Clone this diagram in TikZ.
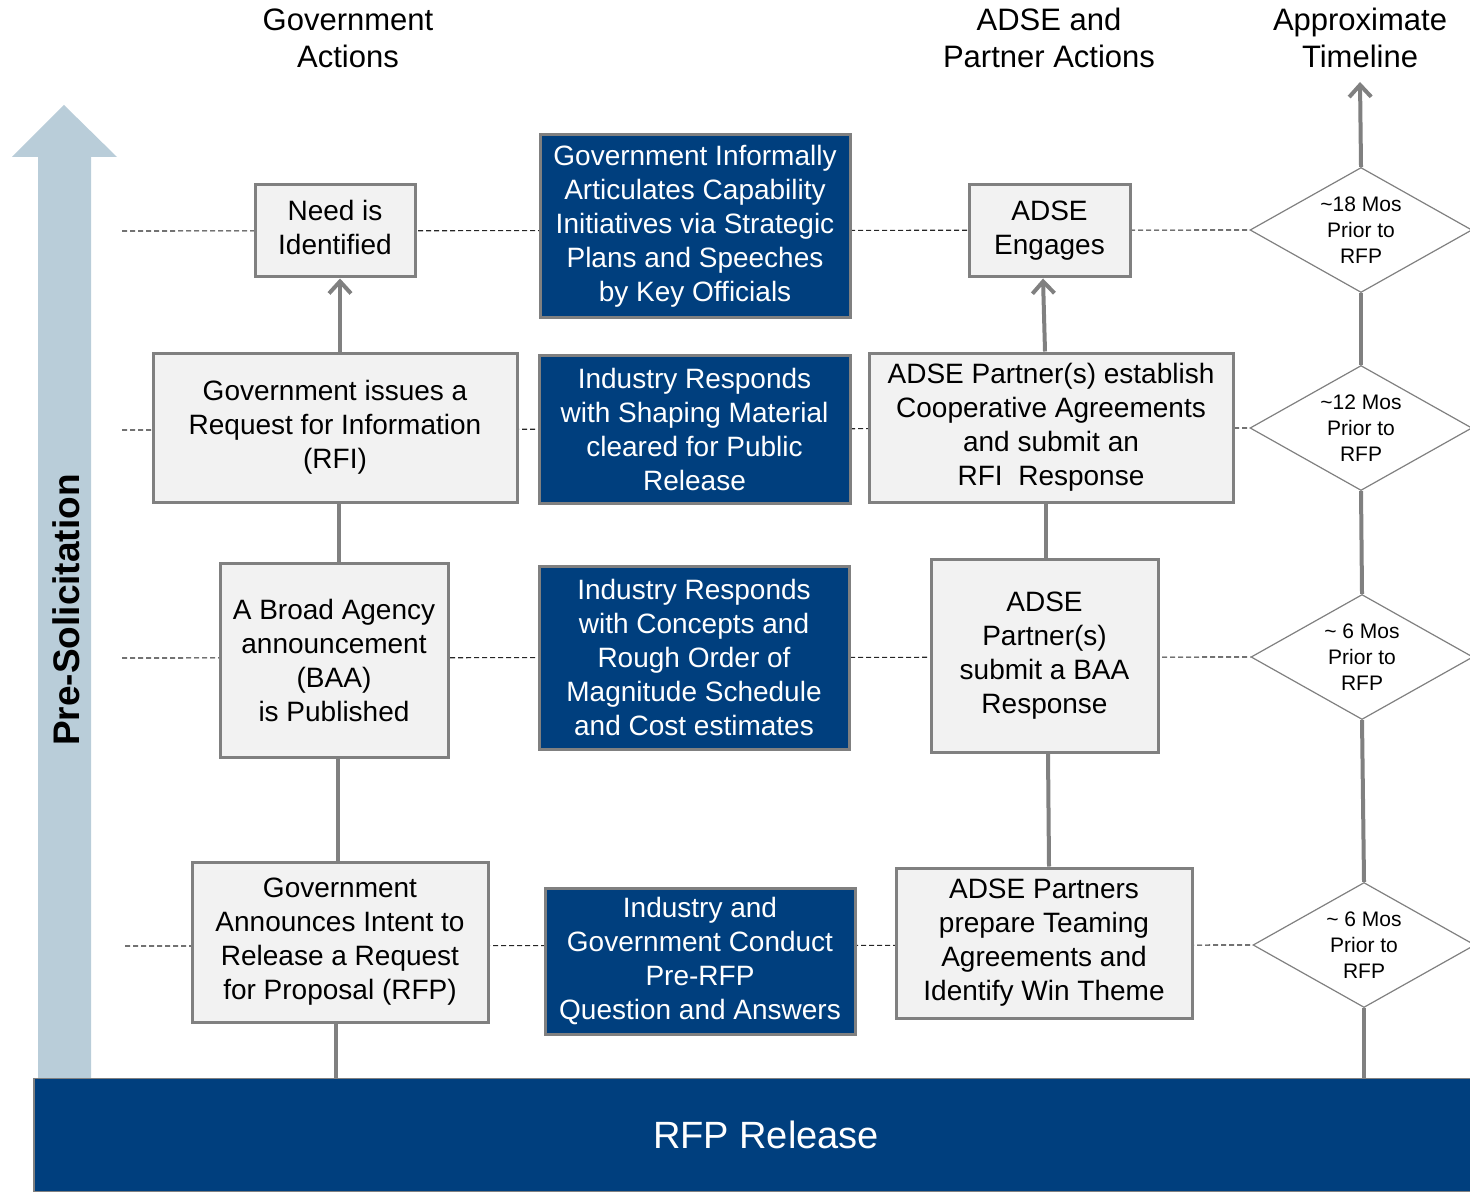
\documentclass[tikz,border=0pt]{standalone}
\usepackage{fontspec}
\setmainfont{Liberation Sans}
\usetikzlibrary{shapes.geometric,arrows.meta}
\definecolor{navy}{RGB}{0,63,126}
\definecolor{steel}{RGB}{185,205,217}
\definecolor{frame}{RGB}{128,128,128}
\definecolor{boxfill}{RGB}{242,242,242}
\begin{document}
\begin{tikzpicture}[x=0.5pt,y=-0.5pt,
  gbox/.style={draw=frame, line width=1.5pt, fill=boxfill, align=center,
    inner sep=0pt, font=\fontsize{14}{17}\selectfont},
  bbox/.style={draw=frame, line width=1.5pt, fill=navy, text=white, align=center,
    inner sep=0pt, font=\fontsize{14}{17}\selectfont},
  dia/.style={diamond, draw=frame, line width=0.6pt, fill=white, inner sep=0pt,
    minimum width=111pt, minimum height=62.5pt},
  diatext/.style={align=center, inner sep=0pt, font=\fontsize{10.5}{13}\selectfont},
  head/.style={align=center, inner sep=0pt, font=\fontsize{15.5}{18.5}\selectfont},
  link/.style={draw=frame, line width=2pt},
  uplink/.style={link, -{Straight Barb[length=6pt,width=11pt,line width=2pt]}},
  rowline/.style={dashed, dash pattern=on 2.5pt off 1.5pt, line width=0.55pt, draw=black!85}
]
\useasboundingbox (0,0) rectangle (1470,1192);

% column headers
\node[head] (hgov) at (348,38) {Government\\Actions};
\node[head] (hadse) at (1049,38) {ADSE and\\Partner Actions};
\node[head] (htime) at (1360,38) {Approximate\\Timeline};

% big upward arrow with phase label
\fill[steel] (38,1080) -- (38,157) -- (12,157) -- (64,105) -- (117,157) -- (91,157) -- (91,1080) -- cycle;
\node[rotate=90, font=\bfseries\fontsize{18.5}{22}\selectfont, inner sep=0pt] (phase) at (66,610) {Pre-Solicitation};

% timeline diamonds
\node[dia] (d1) at (1361,230) {};
\node[dia] (d2) at (1361,428) {};
\node[dia] (d3) at (1362,657) {};
\node[dia] (d4) at (1364,945) {};

% row guide lines
\coordinate (r1) at (122,231);
\coordinate (r2) at (122,430);
\coordinate (r3) at (122,658);
\coordinate (r4) at (125,946);
\draw[rowline] (r1) -- (d1.west);
\draw[rowline] (r2) -- (d2.west);
\draw[rowline] (r3) -- (d3.west);
\draw[rowline] (r4) -- (d4.west);

% government column
\node[gbox, minimum width=80pt, minimum height=46pt] (need) at (335,231) {\raisebox{4pt}{\begin{tabular}{@{}c@{}}Need is\\Identified\end{tabular}}};
\node[gbox, minimum width=182pt, minimum height=74.5pt] (rfi) at (335,427.5) {Government issues a\\Request for Information\\(RFI)};
\node[gbox, minimum width=114pt, minimum height=97pt] (baa) at (334,660) {A Broad Agency\\announcement\\(BAA)\\is Published};
\node[gbox, minimum width=148pt, minimum height=80pt] (gann) at (340,942) {Government\\Announces Intent to\\Release a Request\\for Proposal (RFP)};

% industry column
\node[bbox, minimum width=155pt, minimum height=91.5pt] (i1) at (695,226.5) {Government Informally\\Articulates Capability\\Initiatives via Strategic\\Plans and Speeches\\by Key Officials};
\node[bbox, minimum width=155.5pt, minimum height=74pt] (i2) at (694.5,429) {Industry Responds\\with Shaping Material\\cleared for Public\\Release};
\node[bbox, minimum width=155pt, minimum height=91.5pt] (i3) at (694,657.5) {Industry Responds\\with Concepts and\\Rough Order of\\Magnitude Schedule\\and Cost estimates};
\node[bbox, minimum width=155pt, minimum height=73pt] (i4) at (700,961) {Industry and\\Government Conduct\\Pre-RFP\\Question and Answers};

% ADSE column
\node[gbox, minimum width=80.5pt, minimum height=46pt] (eng) at (1049.5,231) {ADSE\\Engages};
\node[gbox, minimum width=182pt, minimum height=74.5pt] (coop) at (1051,427.5) {ADSE Partner(s) establish\\Cooperative Agreements\\and submit an\\RFI\ \ Response};
\node[gbox, minimum width=113.5pt, minimum height=96.5pt] (bresp) at (1044.5,655.5) {ADSE\\Partner(s)\\submit a BAA\\Response};
\node[gbox, minimum width=148pt, minimum height=75pt] (team) at (1044,943) {ADSE Partners\\prepare Teaming\\Agreements and\\Identify Win Theme};

% release bar
\node[draw=frame, line width=0.8pt, fill=navy, text=white, inner sep=0pt,
  minimum width=719pt, minimum height=56.5pt, font=\fontsize{19}{23}\selectfont] (bar) at (753,1135) {\hspace*{13pt}RFP Release};

% government chain
\draw[uplink] (rfi.north -| 340,0) -- (need.south -| 340,0);
\draw[link] (baa.north -| 339,0) -- (rfi.south -| 339,0);
\draw[link] (gann.north -| 338,0) -- (baa.south -| 338,0);
\draw[link] (bar.north -| 336,0) -- (gann.south -| 336,0);

% ADSE chain
\draw[uplink] (coop.north -| 1045,0) -- (eng.south -| 1043,0);
\draw[link] (bresp.north -| 1046,0) -- (coop.south -| 1046,0);
\draw[link] (team.north -| 1049,0) -- (bresp.south -| 1048,0);

% timeline
\coordinate (tltop) at (1360,82);
\draw[uplink] (d1.north) -- (tltop);
\draw[link] (d2.north) -- (d1.south);
\draw[link] (d3.north) -- (d2.south);
\draw[link] (d4.north) -- (d3.south);
\draw[link] (bar.north -| d4.south) -- (d4.south);

% diamond labels
\node[diatext] at (d1) {\textasciitilde18 Mos\\Prior to\\RFP};
\node[diatext] at (d2) {\textasciitilde12 Mos\\Prior to\\RFP};
\node[diatext] at (d3) {\textasciitilde\ 6 Mos\\Prior to\\RFP};
\node[diatext] at (d4) {\textasciitilde\ 6 Mos\\Prior to\\RFP};
\end{tikzpicture}
\end{document}
